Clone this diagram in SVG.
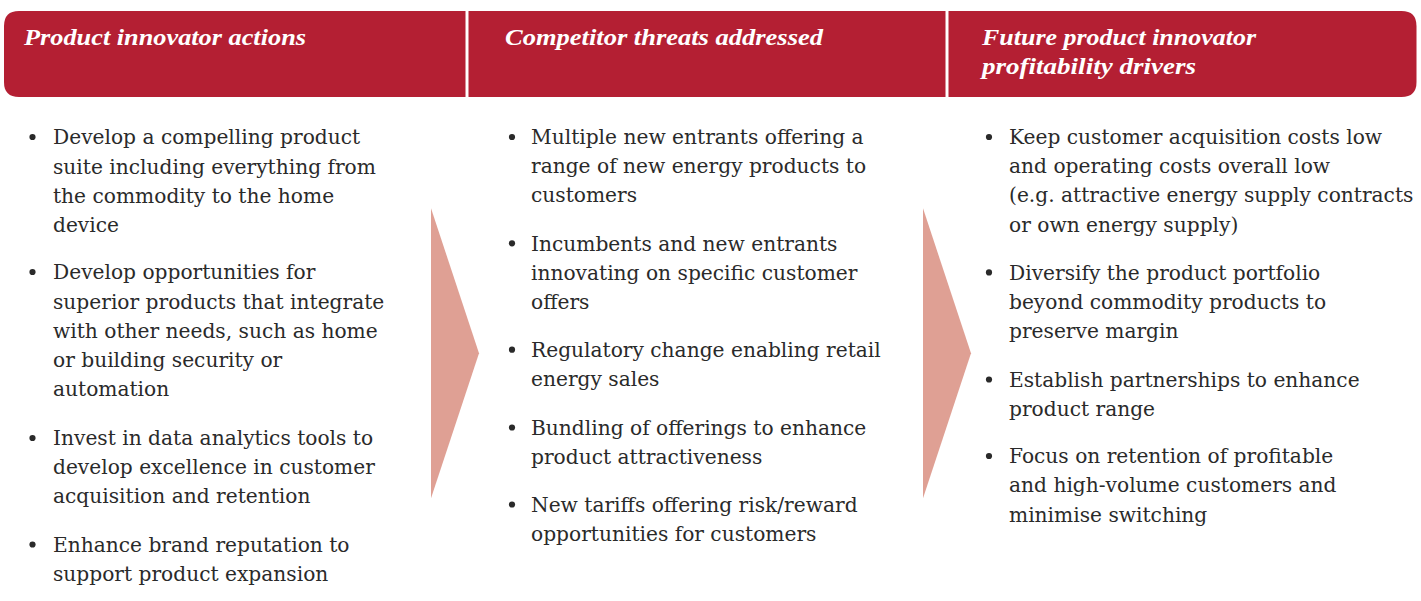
<svg xmlns="http://www.w3.org/2000/svg" width="1421" height="601" viewBox="0 0 1421 601">
<style>
.hdr{fill:#B41F33}
.ht{font-family:"Liberation Serif","DejaVu Serif",serif;font-style:italic;font-weight:bold;font-size:24px;fill:#ffffff}
.bt{font-family:"DejaVu Serif","Liberation Serif",serif;font-size:20.2px;fill:#2a2a2a}
.bul{fill:#2a2a2a}
.arr{fill:#DFA094}
</style>
<rect width="1421" height="601" fill="#ffffff"/>
<g id="col1">
<path class="hdr" d="M19,11 H465.5 V97 H19 Q4,97 4,82 V26 Q4,11 19,11 Z"/>
<text class="ht" x="24" y="45" textLength="282" lengthAdjust="spacingAndGlyphs">Product innovator actions</text>
<circle class="bul" cx="32.5" cy="137" r="3.1"/>
<text class="bt" x="53" y="144.3">Develop a compelling product</text>
<text class="bt" x="53" y="173.5">suite including everything from</text>
<text class="bt" x="53" y="202.7">the commodity to the home</text>
<text class="bt" x="53" y="231.9">device</text>
<circle class="bul" cx="32.5" cy="272" r="3.1"/>
<text class="bt" x="53" y="279.3">Develop opportunities for</text>
<text class="bt" x="53" y="308.5">superior products that integrate</text>
<text class="bt" x="53" y="337.7">with other needs, such as home</text>
<text class="bt" x="53" y="366.9">or building security or</text>
<text class="bt" x="53" y="396.1">automation</text>
<circle class="bul" cx="32.5" cy="438" r="3.1"/>
<text class="bt" x="53" y="445">Invest in data analytics tools to</text>
<text class="bt" x="53" y="474.2">develop excellence in customer</text>
<text class="bt" x="53" y="503.4">acquisition and retention</text>
<circle class="bul" cx="32.5" cy="544.5" r="3.1"/>
<text class="bt" x="53" y="551.7">Enhance brand reputation to</text>
<text class="bt" x="53" y="580.9">support product expansion</text>
</g>
<g id="col2">
<rect class="hdr" x="468.5" y="11" width="477" height="86"/>
<text class="ht" x="505" y="45" textLength="318" lengthAdjust="spacingAndGlyphs">Competitor threats addressed</text>
<circle class="bul" cx="512" cy="137" r="3.1"/>
<text class="bt" x="531" y="144">Multiple new entrants offering a</text>
<text class="bt" x="531" y="173.2">range of new energy products to</text>
<text class="bt" x="531" y="202.4">customers</text>
<circle class="bul" cx="512" cy="243.3" r="3.1"/>
<text class="bt" x="531" y="250.5">Incumbents and new entrants</text>
<text class="bt" x="531" y="279.7">innovating on specific customer</text>
<text class="bt" x="531" y="308.9">offers</text>
<circle class="bul" cx="512" cy="349.7" r="3.1"/>
<text class="bt" x="531" y="356.9">Regulatory change enabling retail</text>
<text class="bt" x="531" y="386.1">energy sales</text>
<circle class="bul" cx="512" cy="427.5" r="3.1"/>
<text class="bt" x="531" y="434.6">Bundling of offerings to enhance</text>
<text class="bt" x="531" y="463.8">product attractiveness</text>
<circle class="bul" cx="512" cy="504.5" r="3.1"/>
<text class="bt" x="531" y="511.6">New tariffs offering risk/reward</text>
<text class="bt" x="531" y="540.8">opportunities for customers</text>
</g>
<g id="col3">
<path class="hdr" d="M948.5,11 H1401.5 Q1416.5,11 1416.5,26 V82 Q1416.5,97 1401.5,97 H948.5 Z"/>
<text class="ht" x="982" y="45" textLength="274" lengthAdjust="spacingAndGlyphs">Future product innovator</text>
<text class="ht" x="982" y="74" textLength="214" lengthAdjust="spacingAndGlyphs">profitability drivers</text>
<circle class="bul" cx="989" cy="137" r="3.1"/>
<text class="bt" x="1009" y="144">Keep customer acquisition costs low</text>
<text class="bt" x="1009" y="173.2">and operating costs overall low</text>
<text class="bt" x="1009" y="202.4">(e.g. attractive energy supply contracts</text>
<text class="bt" x="1009" y="231.6">or own energy supply)</text>
<circle class="bul" cx="989" cy="272.4" r="3.1"/>
<text class="bt" x="1009" y="279.6">Diversify the product portfolio</text>
<text class="bt" x="1009" y="308.8">beyond commodity products to</text>
<text class="bt" x="1009" y="338">preserve margin</text>
<circle class="bul" cx="989" cy="379.5" r="3.1"/>
<text class="bt" x="1009" y="386.6">Establish partnerships to enhance</text>
<text class="bt" x="1009" y="415.8">product range</text>
<circle class="bul" cx="989" cy="456" r="3.1"/>
<text class="bt" x="1009" y="463.2">Focus on retention of profitable</text>
<text class="bt" x="1009" y="492.4">and high-volume customers and</text>
<text class="bt" x="1009" y="521.6">minimise switching</text>
</g>
<g id="connectors">
<polygon class="arr" points="431,208.3 479,353.3 431,498.3"/>
<polygon class="arr" points="923,208.3 971,353.3 923,498.3"/>
</g>
</svg>
